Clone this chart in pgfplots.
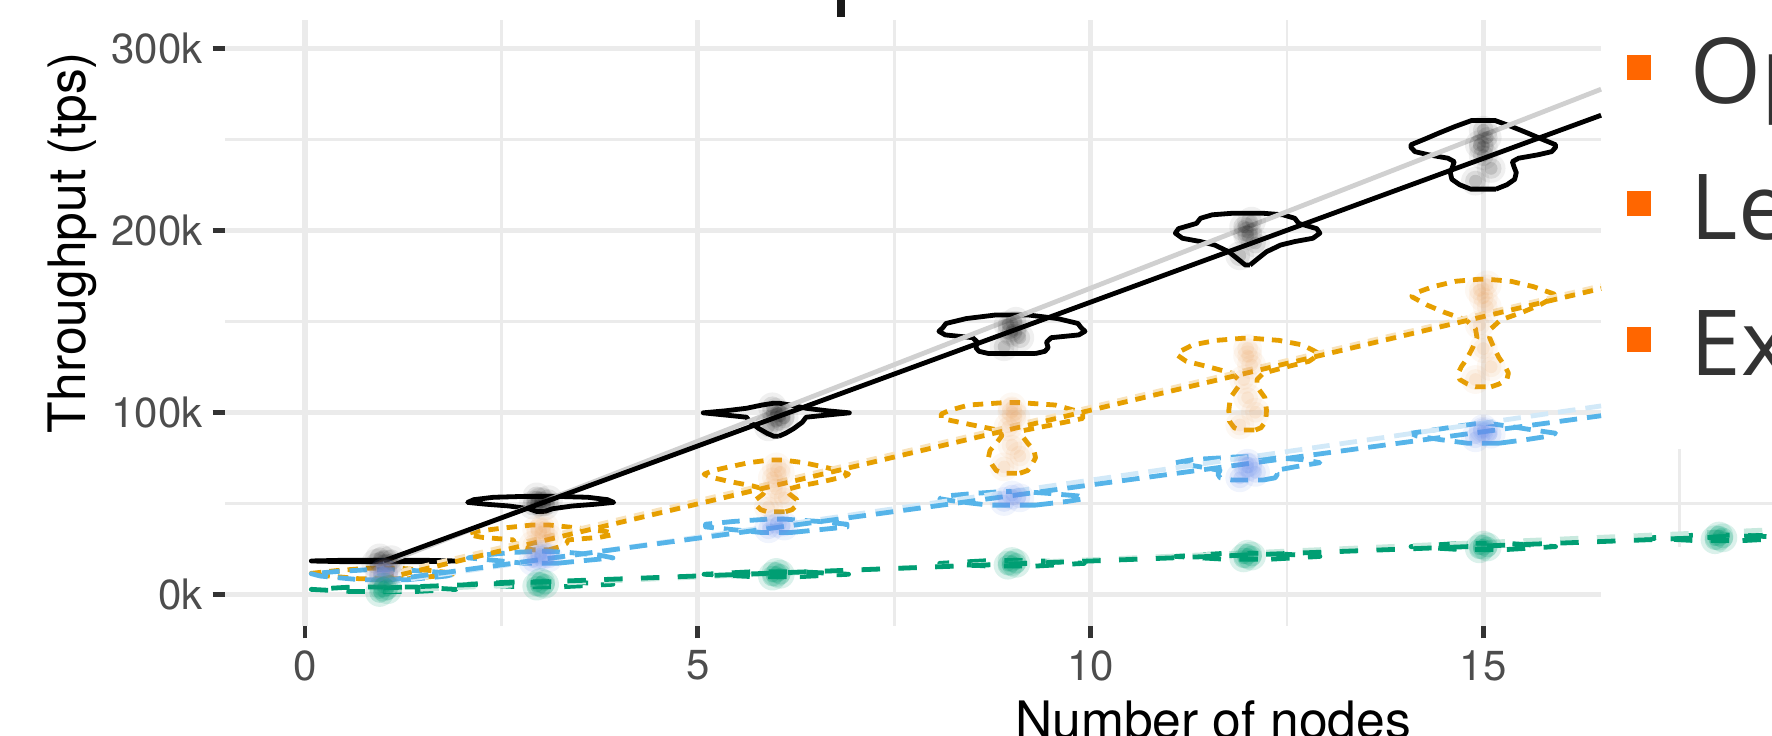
\documentclass[border=0pt]{standalone}
\usepackage{fontspec}
\setmainfont{TeX Gyre Heros}
\newfontfamily\legfont{Open Sans}
\usepackage{pgfplots}
\usepackage{pgfplotstable}
\pgfplotsset{compat=1.18}
\definecolor{corg}{HTML}{E69F00}
\definecolor{cblu}{HTML}{56B4E9}
\definecolor{cgrn}{HTML}{009E73}
\definecolor{cgrid}{HTML}{EBEBEB}
\definecolor{ctick}{HTML}{333333}
\definecolor{clab}{HTML}{4D4D4D}
\definecolor{clegsq}{HTML}{FF6600}
\definecolor{clegtx}{HTML}{333333}
\definecolor{lgray}{HTML}{D0D0D0}
\definecolor{lorg}{HTML}{F8E3BC}
\definecolor{lblu}{HTML}{D2E9F8}
\definecolor{lgrn}{HTML}{C8E9DE}
\definecolor{cbblob}{HTML}{6C8FEA}
\definecolor{coblob}{HTML}{E89A50}
\pgfplotsset{
 vb/.style={black, line width=1.2pt, line join=round},
 vo/.style={corg, line width=1.2pt, line join=round, dash pattern=on 2.6pt off 2pt},
 vbl/.style={cblu, line width=1.2pt, line join=round, dash pattern=on 4.4pt off 2.5pt},
 vg/.style={cgrn, line width=1.2pt, line join=round, dash pattern=on 4.6pt off 4.6pt},
 blob/.style n args={3}{only marks, mark=*, mark size=#2, draw opacity=0, fill=#1, fill opacity=#3,
   mark options={draw opacity=0, fill=#1, fill opacity=#3}},
}
% jittered points, one table per series (x, throughput in k)
\pgfplotstableread{
x y
0.9 17
1.1 19
1.0 18.5
0.95 20
1.05 16.5
2.9 49
3.1 52
3.0 51
2.95 53.5
3.05 48.5
3.0 50.5
5.9 92
6.1 97
6.0 100
5.95 103
6.05 98
6.0 95
8.9 136
9.1 141
9.0 145
8.95 148
9.05 150
9.0 144
11.9 186
12.1 193
12.0 199
11.95 202
12.05 205
12.0 197
14.9 227
15.1 234
15.0 241
14.95 247
15.05 251
15.0 255
15.0 246
}\ptsblack
\pgfplotstableread{
x y
0.95 10
1.05 12
1.0 11
2.9 27
3.1 31
3.0 34
2.95 35.5
3.05 37
5.9 48
6.1 53
6.0 58
5.95 64
6.05 67
6.0 70
8.9 70
9.1 76
9.0 82
8.95 92
9.05 97
9.0 100
9.0 103
11.9 93
12.1 100
12.0 108
11.95 118
12.05 126
12.0 131
12.0 135
14.9 118
15.1 125
15.0 135
14.95 148
15.05 158
15.0 163
14.95 167
15.05 170
}\ptsorange
\pgfplotstableread{
x y
0.95 10
1.05 11
1.0 12
2.9 18
3.1 20
3.0 21
3.0 22
5.9 36
6.1 37.5
6.0 39
8.9 51
9.1 53
9.0 54.5
11.9 64
12.1 67
12.0 70
12.0 72
14.9 86
15.1 88
15.0 89.5
15.0 91
}\ptsblue
\pgfplotstableread{
x y
0.95 1
1.05 2.5
1.0 4
2.95 4.5
3.05 5.5
3.0 6.5
5.95 10
6.05 11
6.0 12
8.95 16
9.05 17
9.0 18
11.95 20
12.05 21
12.0 22
14.95 25
15.05 26
15.0 27
17.95 30
18.05 31
18.0 32
}\ptsgreen
\begin{document}
\begin{tikzpicture}[x=0.25pt,y=0.25pt]
\useasboundingbox (0,0) rectangle (1772,736);
\begin{axis}[
  at={(56.25pt,27.5pt)}, anchor=south west,
  width=386.75pt, height=151.5pt, scale only axis,
  xmin=-1.0185, xmax=18.676, ymin=-17.42, ymax=315.55,
  axis line style={draw=none},
  tick align=outside, tick pos=left,
  major tick length=3.1pt,
  tick style={color=ctick, line width=1.2pt},
  xtick={0,5,10,15}, xticklabels={0,5,10,15},
  ytick={0,100,200,300}, yticklabels={0k,100k,200k,300k},
  ticklabel style={font=\fontsize{10.5}{12}\selectfont, color=clab, inner sep=0pt},
  yticklabel style={anchor=east, xshift=-2.3pt},
  xticklabel style={anchor=north, yshift=-2.8pt},
]
% grid
\draw[cgrid, line width=0.7pt] (axis cs:-1.0185,50) -- (axis cs:18.676,50);
\draw[cgrid, line width=0.7pt] (axis cs:-1.0185,150) -- (axis cs:16.5,150);
\draw[cgrid, line width=0.7pt] (axis cs:-1.0185,250) -- (axis cs:16.5,250);
\draw[cgrid, line width=0.7pt] (axis cs:2.5,-17.42) -- (axis cs:2.5,315.55);
\draw[cgrid, line width=0.7pt] (axis cs:7.5,-17.42) -- (axis cs:7.5,315.55);
\draw[cgrid, line width=0.7pt] (axis cs:12.5,-17.42) -- (axis cs:12.5,315.55);
\draw[cgrid, line width=0.7pt] (axis cs:17.5,26) -- (axis cs:17.5,80);
\draw[cgrid, line width=1.3pt] (axis cs:-1.0185,0) -- (axis cs:16.5,0);
\draw[cgrid, line width=1.3pt] (axis cs:-1.0185,100) -- (axis cs:16.5,100);
\draw[cgrid, line width=1.3pt] (axis cs:-1.0185,200) -- (axis cs:16.5,200);
\draw[cgrid, line width=1.3pt] (axis cs:-1.0185,300) -- (axis cs:16.5,300);
\draw[cgrid, line width=1.3pt] (axis cs:0,-17.42) -- (axis cs:0,315.55);
\draw[cgrid, line width=1.3pt] (axis cs:5,-17.42) -- (axis cs:5,315.55);
\draw[cgrid, line width=1.3pt] (axis cs:10,-17.42) -- (axis cs:10,315.55);
\draw[cgrid, line width=1.3pt] (axis cs:15,-17.42) -- (axis cs:15,315.55);

% jittered points (soft blobs: three layers of faint marks)
\addplot[blob={black}{3.6pt}{0.06}] table {\ptsblack};
\addplot[blob={black}{2.6pt}{0.09}] table {\ptsblack};
\addplot[blob={black}{1.6pt}{0.12}] table {\ptsblack};
\addplot[blob={coblob}{3.6pt}{0.07}] table {\ptsorange};
\addplot[blob={coblob}{2.6pt}{0.09}] table {\ptsorange};
\addplot[blob={coblob}{1.6pt}{0.12}] table {\ptsorange};
\addplot[blob={cbblob}{3.6pt}{0.1}] table {\ptsblue};
\addplot[blob={cbblob}{2.6pt}{0.14}] table {\ptsblue};
\addplot[blob={cbblob}{1.6pt}{0.18}] table {\ptsblue};
\addplot[blob={cgrn}{3.6pt}{0.14}] table {\ptsgreen};
\addplot[blob={cgrn}{2.6pt}{0.2}] table {\ptsgreen};
\addplot[blob={cgrn}{1.6pt}{0.25}] table {\ptsgreen};

% violins - black
\addplot[vb] coordinates {(1.5,17.9)(1.92,18.3)(1.5,18.7)(0.5,18.7)(0.08,18.3)(0.5,17.9)(1.5,17.9)};
\addplot[vb] coordinates {(3.05,45.5)(3.15,47)(3.4,48.5)(3.7,49.5)(3.93,50.5)(3.85,52)(3.6,53.3)(3.2,53.8)(2.8,53.8)(2.4,53.3)(2.15,52)(2.07,50.5)(2.3,49.5)(2.6,48.5)(2.85,47)(2.95,45.5)(3.05,45.5)};
\addplot[vb] coordinates {(6.03,86.8)(6.12,88.5)(6.22,91)(6.33,94.5)(6.38,97.3)(6.65,98.5)(6.93,99.7)(6.65,100.8)(6.38,102.2)(6.18,104)(6.03,105)(5.97,105)(5.82,104)(5.62,102.2)(5.35,100.8)(5.07,99.7)(5.35,98.5)(5.62,97.3)(5.67,94.5)(5.78,91)(5.88,88.5)(5.97,86.8)(6.03,86.8)};
\addplot[vb] coordinates {(9.3,132.3)(9.42,133.5)(9.46,135.5)(9.44,138.5)(9.5,141)(9.85,142.5)(9.93,144.5)(9.88,146.5)(9.84,148.8)(9.58,151.5)(9.2,153.5)(8.8,153.5)(8.42,151.5)(8.16,148.8)(8.12,146.5)(8.07,144.5)(8.15,142.5)(8.5,141)(8.56,138.5)(8.54,135.5)(8.58,133.5)(8.7,132.3)(9.3,132.3)};
\addplot[vb] coordinates {(12.03,180.9)(12.11,183.7)(12.24,188.2)(12.42,191.9)(12.6,193.8)(12.83,195.6)(12.92,198.4)(12.88,200.9)(12.65,203.8)(12.6,206.6)(12.45,208.5)(12.18,209.4)(11.82,209.4)(11.55,208.5)(11.4,206.6)(11.35,203.8)(11.12,200.9)(11.08,198.4)(11.17,195.6)(11.4,193.8)(11.58,191.9)(11.76,188.2)(11.89,183.7)(11.97,180.9)(12.03,180.9)};
\addplot[vb] coordinates {(15.16,222.6)(15.3,225)(15.4,228)(15.42,231.7)(15.39,235)(15.37,237.7)(15.45,239.6)(15.7,241.5)(15.87,243.2)(15.92,245.5)(15.92,247)(15.75,250)(15.56,253.5)(15.36,257)(15.15,260.3)(14.85,260.3)(14.64,257)(14.44,253.5)(14.25,250)(14.08,247)(14.08,245.5)(14.13,243.2)(14.3,241.5)(14.55,239.6)(14.63,237.7)(14.61,235)(14.58,231.7)(14.6,228)(14.7,225)(14.84,222.6)(15.16,222.6)};

% violins - orange
\addplot[vo] coordinates {(1.3,8.5)(1.8,10.5)(1.92,11.5)(1.6,13)(1.2,14.3)(0.8,14.3)(0.4,13)(0.08,11.5)(0.2,10.5)(0.7,8.5)(1.3,8.5)};
\addplot[vo] coordinates {(3.1,24.4)(3.25,26.2)(3.33,28)(3.35,29.9)(3.75,31.3)(3.9,32.6)(3.92,33.5)(3.84,34.4)(3.5,36.3)(3.1,38.1)(2.9,38.1)(2.5,36.3)(2.16,34.4)(2.08,33.5)(2.1,32.6)(2.25,31.3)(2.65,29.9)(2.67,28)(2.75,26.2)(2.9,24.4)(3.1,24.4)};
\addplot[vo] coordinates {(6.12,45.4)(6.2,46.5)(6.26,49)(6.26,52)(6.17,55)(6.13,57.5)(6.3,59.5)(6.6,62)(6.85,64.5)(6.92,66)(6.8,68)(6.6,70)(6.35,72.3)(6.08,73.8)(5.92,73.8)(5.65,72.3)(5.4,70)(5.2,68)(5.08,66)(5.15,64.5)(5.4,62)(5.7,59.5)(5.87,57.5)(5.83,55)(5.74,52)(5.74,49)(5.8,46.5)(5.88,45.4)(6.12,45.4)};
\addplot[vo] coordinates {(9.1,66.5)(9.2,68)(9.25,71)(9.3,75)(9.28,79)(9.2,83)(9.13,87)(9.15,90)(9.5,93)(9.9,96.6)(9.9,99)(9.8,101)(9.55,104)(9.1,105.3)(8.9,105.3)(8.45,104)(8.2,101)(8.1,99)(8.1,96.6)(8.5,93)(8.85,90)(8.87,87)(8.8,83)(8.72,79)(8.7,75)(8.75,71)(8.8,68)(8.9,66.5)(9.1,66.5)};
\addplot[vo] coordinates {(12.1,90.3)(12.17,91.5)(12.23,95)(12.24,101)(12.22,108)(12.12,114)(12.12,118)(12.2,121.5)(12.5,125)(12.78,128)(12.9,131.5)(12.88,133)(12.7,137)(12.4,139.5)(12.05,140.7)(11.95,140.7)(11.6,139.5)(11.3,137)(11.12,133)(11.1,131.5)(11.22,128)(11.5,125)(11.8,121.5)(11.88,118)(11.88,114)(11.78,108)(11.76,101)(11.77,95)(11.83,91.5)(11.9,90.3)(12.1,90.3)};
\addplot[vo] coordinates {(15.1,114)(15.2,115.5)(15.3,118)(15.32,121.5)(15.28,125)(15.2,130)(15.13,136)(15.08,141)(15.1,146)(15.22,150.7)(15.5,155)(15.72,159)(15.91,163.5)(15.9,165)(15.64,169)(15.35,172)(15.05,173.1)(14.95,173.1)(14.65,172)(14.36,169)(14.1,165)(14.09,163.5)(14.28,159)(14.5,155)(14.78,150.7)(14.9,146)(14.92,141)(14.87,136)(14.8,130)(14.72,125)(14.68,121.5)(14.7,118)(14.8,115.5)(14.9,114)(15.1,114)};

% violins - blue
\addplot[vbl] coordinates {(1.3,8)(1.8,10)(1.92,11.3)(1.6,12.5)(1.2,13.5)(0.8,13.5)(0.4,12.5)(0.08,11.3)(0.2,10)(0.7,8)(1.3,8)};
\addplot[vbl] coordinates {(3.2,17)(3.55,18.5)(3.92,20)(3.75,21.5)(3.35,23)(3.05,23.6)(2.95,23.6)(2.65,23)(2.25,21.5)(2.08,20)(2.45,18.5)(2.8,17)(3.2,17)};
\addplot[vbl] coordinates {(6.2,34)(6.55,35.5)(6.9,37)(6.9,38.5)(6.55,40)(6.1,41.3)(5.9,41.3)(5.45,40)(5.1,38.5)(5.1,37)(5.45,35.5)(5.8,34)(6.2,34)};
\addplot[vbl] coordinates {(9.3,49)(9.7,51)(9.92,52.5)(9.85,54)(9.45,55.5)(9.1,56.5)(8.9,56.5)(8.55,55.5)(8.15,54)(8.08,52.5)(8.3,51)(8.7,49)(9.3,49)};
\addplot[vbl] coordinates {(12.2,62.8)(12.35,64)(12.38,66)(12.35,68)(12.6,70)(12.92,72.3)(12.7,74)(12.1,75.6)(11.9,75.6)(11.3,74)(11.08,72.3)(11.4,70)(11.65,68)(11.62,66)(11.65,64)(11.8,62.8)(12.2,62.8)};
\addplot[vbl] coordinates {(15.2,83)(15.55,85)(15.85,87)(15.92,88.5)(15.6,90.5)(15.3,92.5)(15.05,94)(14.95,94)(14.7,92.5)(14.4,90.5)(14.08,88.5)(14.15,87)(14.45,85)(14.8,83)(15.2,83)};

% violins - green
\addplot[vg] coordinates {(1.4,1.5)(1.92,2.7)(1.4,4)(0.6,4)(0.08,2.7)(0.6,1.5)(1.4,1.5)};
\addplot[vg] coordinates {(3.3,4.2)(3.92,5.5)(3.3,6.9)(2.7,6.9)(2.08,5.5)(2.7,4.2)(3.3,4.2)};
\addplot[vg] coordinates {(6.3,9.7)(6.92,11)(6.3,12.4)(5.7,12.4)(5.08,11)(5.7,9.7)(6.3,9.7)};
\addplot[vg] coordinates {(9.3,15.5)(9.92,17)(9.3,18.5)(8.7,18.5)(8.08,17)(8.7,15.5)(9.3,15.5)};
\addplot[vg] coordinates {(12.3,19.3)(12.92,20.8)(12.3,22.5)(11.7,22.5)(11.08,20.8)(11.7,19.3)(12.3,19.3)};
\addplot[vg] coordinates {(15.3,24.6)(15.92,26.2)(15.3,28)(14.7,28)(14.08,26.2)(14.7,24.6)(15.3,24.6)};
\addplot[vg] coordinates {(18.3,29.5)(18.92,30.9)(18.3,32.5)(17.7,32.5)(17.08,30.9)(17.7,29.5)(18.3,29.5)};

% ideal (light) lines
\addplot[lgray, line width=1.2pt] coordinates {(1,16.82)(16.5,277.5)};
\addplot[lorg, line width=1.2pt, dash pattern=on 2.6pt off 2pt] coordinates {(1,10.27)(16.5,169.5)};
\addplot[lblu, line width=1.2pt, dash pattern=on 4.4pt off 2.5pt] coordinates {(1,6.27)(16.5,103.5)};
\addplot[lgrn, line width=1.2pt, dash pattern=on 4.6pt off 4.6pt] coordinates {(1,1.9)(18.7,35.5)};
% fitted lines
\addplot[black, line width=1.2pt] coordinates {(1,18.3)(16.5,263.2)};
\addplot[corg, line width=1.2pt, dash pattern=on 2.6pt off 2pt] coordinates {(1,8.5)(16.5,168)};
\addplot[cblu, line width=1.2pt, dash pattern=on 4.4pt off 2.5pt] coordinates {(1,7.4)(16.5,98.1)};
\addplot[cgrn, line width=1.2pt, dash pattern=on 4.6pt off 4.6pt] coordinates {(1,3.5)(18.7,32.6)};
\end{axis}
% axis titles
\node[rotate=90, anchor=base, inner sep=0pt, font=\fontsize{12.9}{15}\selectfont] at (85,493.5) {Throughput (tps)};
\node[anchor=base, inner sep=0pt, font=\fontsize{12.9}{15}\selectfont] at (1213,-3) {Number of nodes};
% title fragment
\draw[line width=2.1pt, color=black!90] (841,719) -- (841,745);
% legend
\fill[clegsq] (1626.7,656) rectangle (1650.7,681);
\fill[clegsq] (1626.7,520) rectangle (1650.7,545);
\fill[clegsq] (1626.7,384) rectangle (1650.7,409);
\node[anchor=base west, inner sep=0pt, text=clegtx, font=\legfont\fontsize{22.75}{26}\selectfont] at (1690,632.7) {Op};
\node[anchor=base west, inner sep=0pt, text=clegtx, font=\legfont\fontsize{22.75}{26}\selectfont] at (1690,496) {Le};
\node[anchor=base west, inner sep=0pt, text=clegtx, font=\legfont\fontsize{22.75}{26}\selectfont] at (1690,360) {Ex};
\end{tikzpicture}
\end{document}
